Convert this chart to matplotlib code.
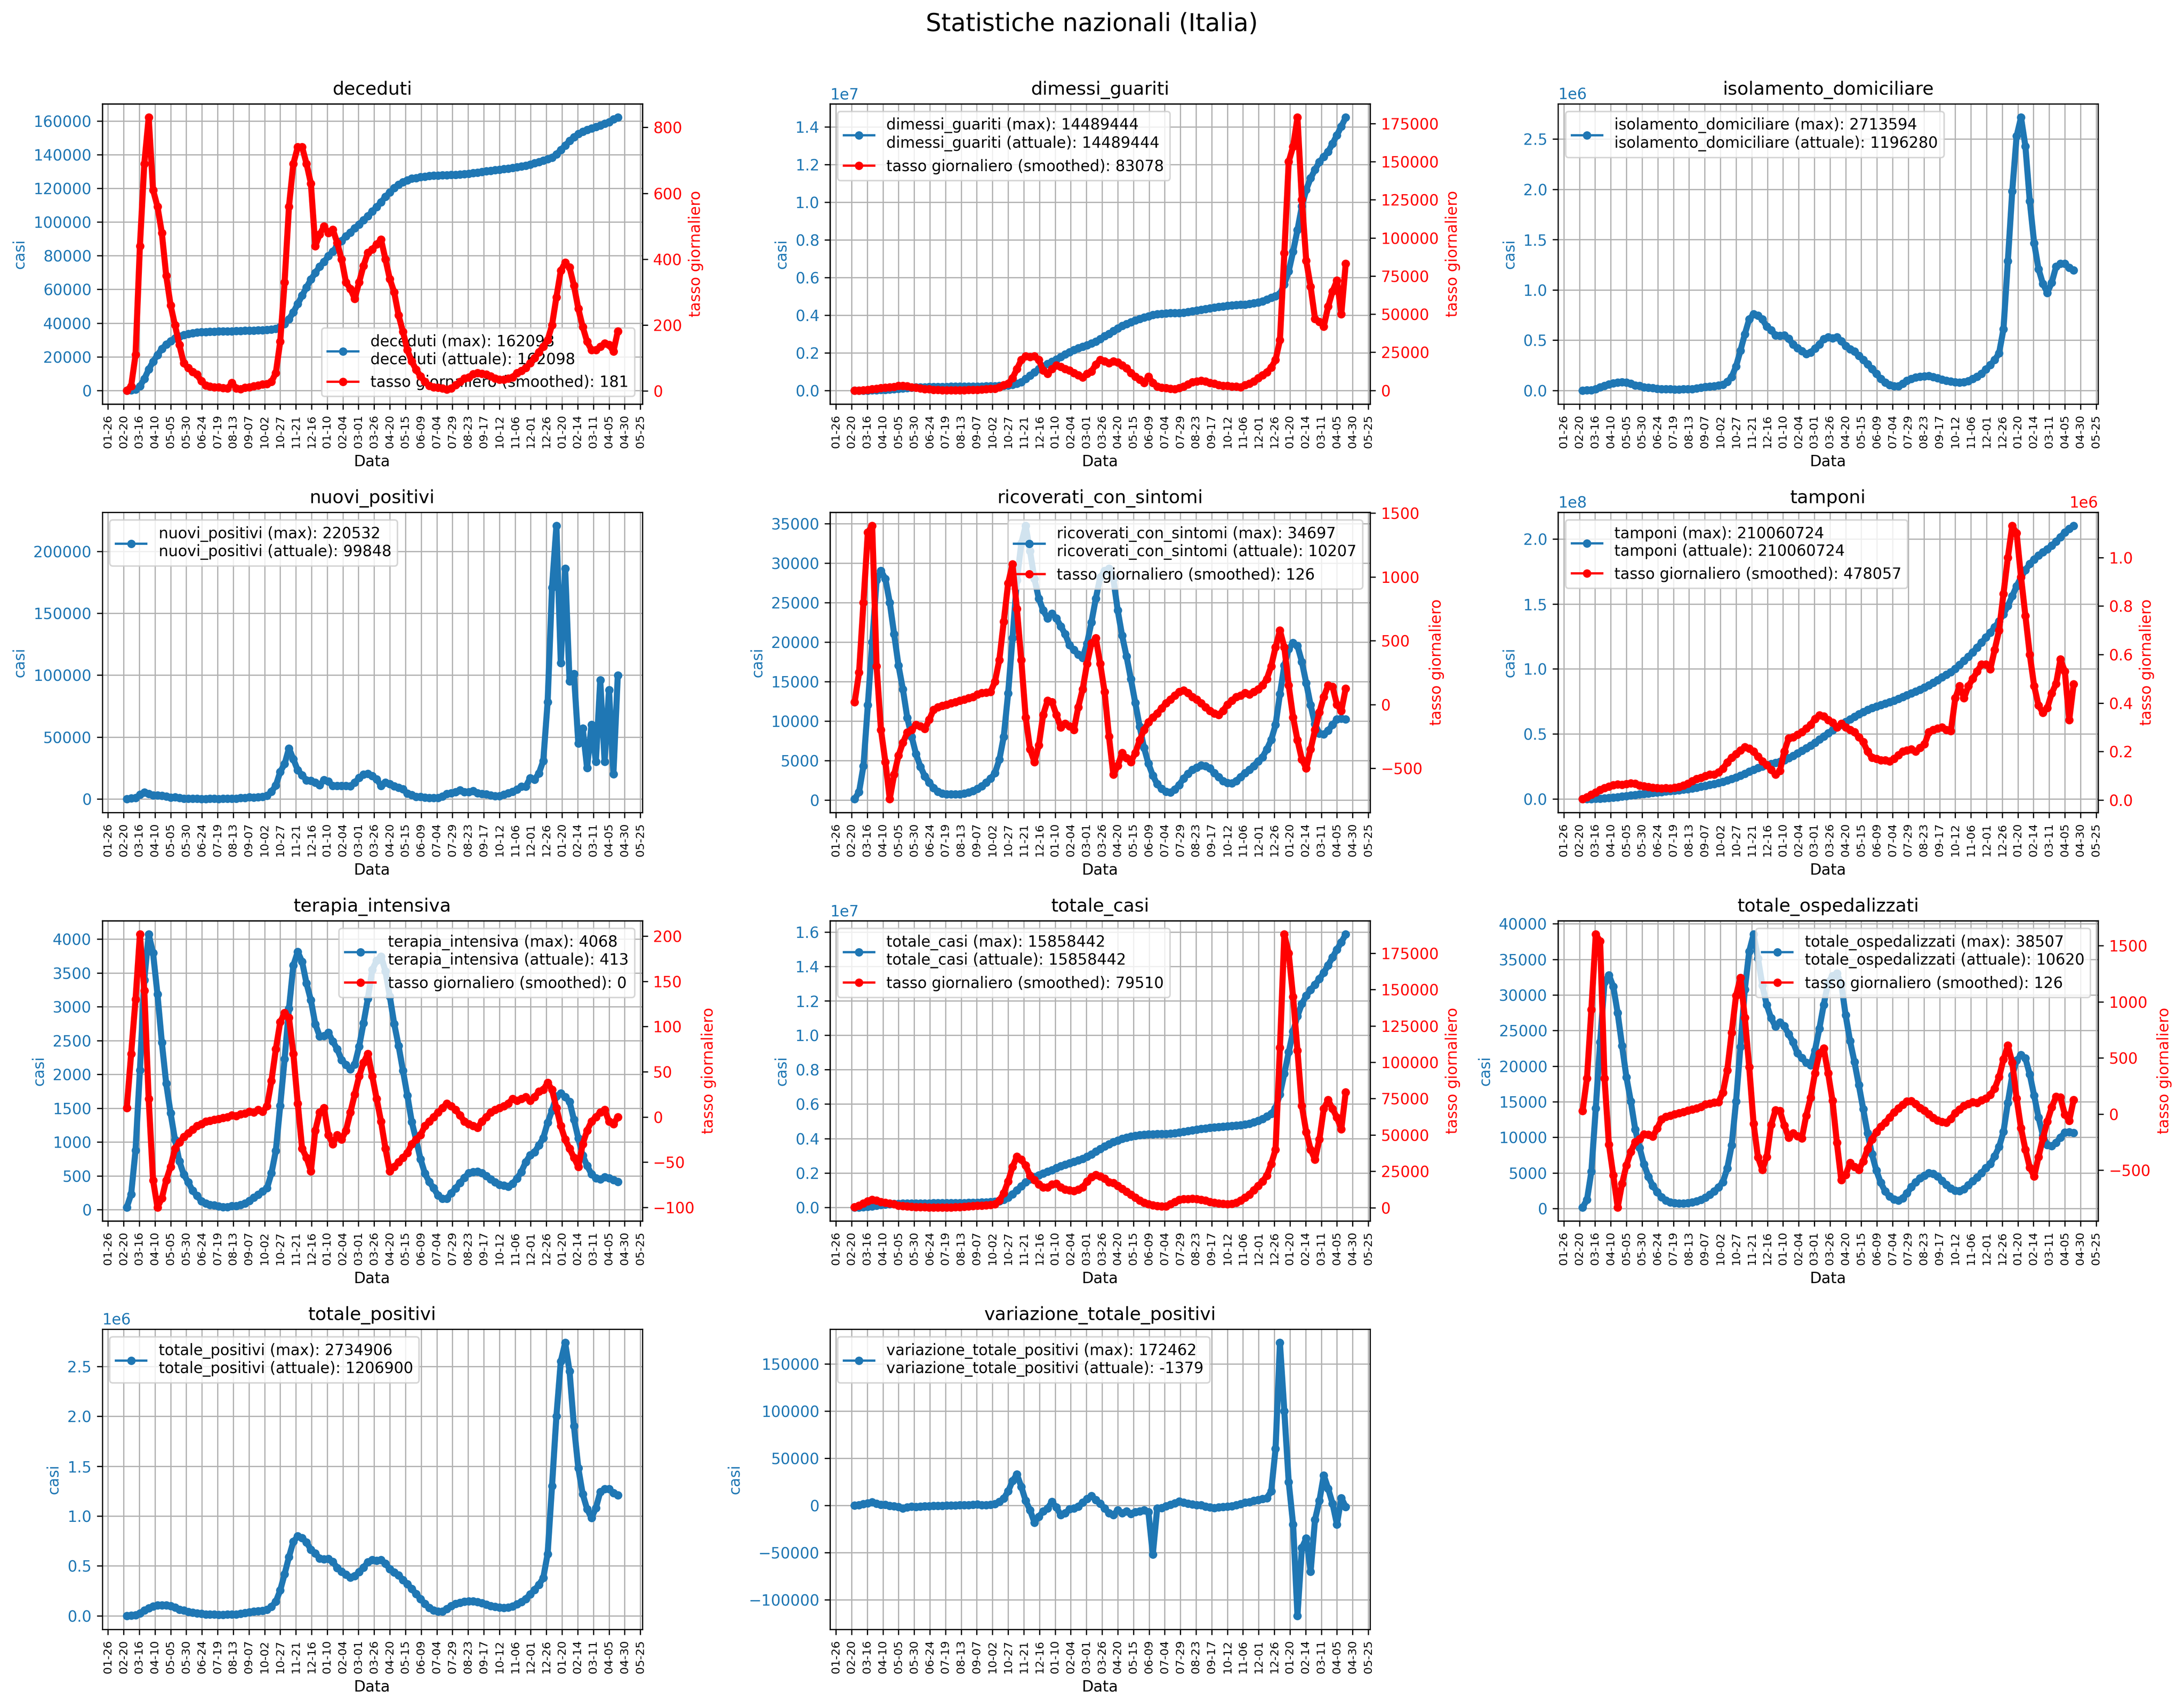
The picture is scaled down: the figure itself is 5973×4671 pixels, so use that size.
import matplotlib
matplotlib.use("Agg")
import matplotlib.pyplot as plt
import matplotlib.dates as mdates
import numpy as np
import pandas as pd

# values, one sample every 7 days (2020-02-25 .. 2022-04-19)
date = pd.date_range("2020-02-25", "2022-04-19", freq="7D")

deceduti = [10, 79, 631, 2503, 6820, 12428, 17127, 21067, 24648, 27359,
            29315, 30911, 32169, 32955, 33530, 33964, 34405, 34657, 34767, 34899,
            34984, 35073, 35132, 35171, 35225, 35405, 35445, 35491, 35553, 35633,
            35738, 35875, 36002, 36246, 36616, 37700, 39412, 42330, 46464, 51306,
            56361, 61240, 65857, 69842, 73604, 76329, 79819, 82554, 85881, 88845,
            91580, 93835, 96348, 98635, 101184, 103432, 106339, 108879, 111747, 115088,
            117633, 120256, 122263, 123745, 124810, 125793, 126221, 126690, 127038, 127322,
            127542, 127731, 127831, 127920, 128029, 128136, 128304, 128510, 128767, 129055,
            129467, 129885, 130284, 130557, 130921, 131198, 131461, 131763, 132100, 132551,
            132965, 133486, 134152, 134929, 135778, 136611, 137402, 138276, 140250, 142770,
            145500, 148160, 150470, 152290, 153690, 154740, 155615, 156490, 157435, 158450,
            159430, 161050, 162098]
deceduti_tasso = [2, 15, 110, 440, 690, 830, 610, 560, 480, 350,
                  260, 200, 140, 85, 70, 58, 50, 30, 17, 14,
                  12, 12, 9, 8, 25, 8, 6, 10, 12, 15,
                  17, 20, 22, 28, 55, 150, 330, 560, 690, 740,
                  740, 690, 630, 440, 475, 500, 480, 490, 450, 400,
                  330, 310, 280, 330, 380, 420, 430, 445, 460, 400,
                  340, 300, 230, 180, 125, 90, 65, 45, 28, 16,
                  12, 10, 8, 5, 8, 18, 28, 38, 42, 52,
                  55, 53, 50, 45, 38, 35, 35, 38, 42, 55,
                  62, 70, 85, 100, 118, 135, 155, 200, 285, 365,
                  390, 375, 320, 250, 195, 150, 125, 125, 135, 145,
                  140, 120, 181]

dimessi_guariti = [1, 160, 1004, 2941, 8326, 15729, 24392, 37130, 51610, 68941,
                   85231, 107817, 131778, 144658, 160688, 168725, 176821, 183204, 190248, 192815,
                   195327, 197095, 198952, 200442, 201519, 203217, 204517, 205906, 208000, 210671,
                   218279, 224226, 229008, 238247, 255094, 271988, 302275, 363023, 448440, 606867,
                   784595, 958629, 1141340, 1280387, 1418878, 1521203, 1636587, 1777078, 1919269, 2039010,
                   2140930, 2251865, 2324417, 2399783, 2497531, 2595343, 2733509, 2884799, 2995210, 3155500,
                   3303562, 3426362, 3520737, 3632542, 3717766, 3798879, 3873288, 3941100, 4002717, 4049967,
                   4079969, 4099154, 4110048, 4110650, 4117421, 4136632, 4167612, 4199269, 4238355, 4276246,
                   4321474, 4361006, 4405079, 4438983, 4467101, 4491803, 4515054, 4530983, 4548569, 4560606,
                   4595612, 4635327, 4679395, 4737205, 4835449, 4919389, 5004598, 5127724, 5630750, 6325230,
                   7367500, 8517840, 9769530, 10657710, 11266310, 11715260, 12134385, 12408510, 12672565, 13101550,
                   13550570, 14018950, 14489444]
dimessi_tasso = [0, 20, 150, 400, 1000, 1100, 1500, 1900, 2100, 2400,
                 3000, 3000, 2700, 2200, 1900, 1300, 1000, 900, 500, 350,
                 250, 250, 220, 200, 220, 250, 300, 450, 500, 700,
                 1000, 1100, 1200, 2000, 3500, 4500, 8000, 14000, 20000, 22500,
                 22000, 22500, 20000, 13000, 11000, 14000, 16500, 15500, 14000, 13000,
                 11500, 10000, 8500, 11000, 12500, 17000, 20000, 19000, 18000, 19000,
                 18500, 16500, 14500, 11500, 9000, 7000, 5000, 9000, 5000, 2500,
                 1800, 1500, 1200, 1000, 1500, 2500, 4000, 5500, 6000, 6500,
                 6000, 5000, 4500, 3500, 3000, 3000, 2500, 2500, 2000, 3500,
                 4500, 6000, 8000, 10000, 12000, 15000, 20000, 33000, 90000, 150000,
                 160000, 179000, 125000, 85000, 68000, 47000, 45000, 42000, 55000, 65000,
                 72000, 50000, 83078]

isolamento_domiciliare = [146, 1034, 3337, 12002, 30634, 45812, 61275, 73105, 80228, 82342,
                          80040, 67454, 51636, 44421, 33089, 28389, 23067, 18645, 13968, 13121,
                          12054, 11678, 11663, 11875, 13296, 15156, 20193, 26573, 35234, 40525,
                          43067, 48292, 58857, 85335, 133869, 240054, 395417, 559339, 707056, 758342,
                          744782, 706180, 634784, 600398, 549440, 542543, 547000, 516479, 457434, 420939,
                          391054, 363049, 377952, 417742, 457397, 510998, 529283, 518598, 528264, 490919,
                          442717, 411346, 387085, 342644, 306011, 259400, 212366, 164651, 116362, 77590,
                          53282, 41739, 43885, 66538, 97854, 116984, 128305, 137730, 142356, 143042,
                          135137, 123457, 108103, 96648, 89191, 82480, 77544, 82259, 91714, 114141,
                          135640, 164997, 209294, 253750, 302650, 371340, 609215, 1285133, 1981323, 2529183,
                          2713594, 2428905, 1881170, 1464145, 1207200, 1059750, 971073, 1071236, 1230748, 1260020,
                          1259333, 1219260, 1196280]

nuovi_positivi = [93, 466, 977, 3526, 5249, 4053, 3039, 2972, 2729, 2091,
                  1075, 1402, 813, 397, 318, 283, 210, 122, 142, 193,
                  169, 129, 212, 190, 412, 403, 878, 996, 1370, 1229,
                  1392, 1648, 2677, 5901, 10874, 21994, 28244, 40902, 32191, 23232,
                  19350, 15000, 14844, 13318, 11212, 15378, 14242, 10497, 10593, 10630,
                  10680, 10386, 13314, 17083, 19749, 20396, 18765, 16017, 10680, 13447,
                  12074, 10404, 9116, 7852, 4452, 3224, 1820, 1896, 1255, 835,
                  835, 907, 2153, 4259, 4845, 5735, 6968, 5630, 5559, 6503,
                  4664, 4021, 3970, 2985, 2466, 2494, 3702, 4598, 5830, 7698,
                  10172, 10047, 16806, 15756, 20677, 30798, 78313, 170844, 220532, 110000,
                  186000, 95000, 101000, 45000, 57000, 25000, 60000, 30000, 96000, 30000,
                  88000, 20000, 99848]

ricoverati_con_sintomi = [130, 1000, 4300, 12000, 20000, 27800, 29000, 28000, 25000, 21000,
                          17000, 14000, 10400, 8000, 5800, 4200, 3000, 2200, 1500, 1050,
                          800, 730, 700, 700, 730, 800, 950, 1150, 1400, 1750,
                          2200, 2700, 3400, 5100, 8000, 13500, 20500, 27800, 32500, 34697,
                          31500, 28000, 25500, 24000, 23000, 23600, 23000, 22000, 21000, 19600,
                          19000, 18400, 18000, 19800, 22500, 25500, 28200, 29000, 29300, 28000,
                          24000, 20800, 18200, 15300, 12300, 9300, 6600, 4600, 3100, 2000,
                          1400, 1050, 950, 1300, 1900, 2700, 3300, 3800, 4100, 4400,
                          4300, 4000, 3400, 2900, 2400, 2150, 2100, 2400, 2900, 3400,
                          3800, 4300, 4900, 5400, 6400, 7600, 9500, 13400, 17000, 19100,
                          19900, 19500, 17500, 14800, 12000, 9600, 8400, 8300, 8800, 9500,
                          10200, 10300, 10207]
ricoverati_tasso = [20, 250, 800, 1350, 1400, 300, -200, -450, -740, -550,
                    -400, -300, -220, -200, -160, -170, -190, -120, -40, -20,
                    -10, 0, 10, 20, 30, 40, 50, 60, 80, 90,
                    95, 100, 180, 350, 650, 950, 1100, 750, 350, -100,
                    -350, -450, -320, -80, 30, 20, -80, -180, -150, -170,
                    -200, -20, 120, 320, 480, 520, 320, 100, -250, -550,
                    -480, -380, -420, -450, -380, -280, -200, -140, -100, -70,
                    -30, 10, 40, 70, 100, 110, 90, 60, 40, 10,
                    -20, -50, -70, -80, -50, 0, 30, 60, 70, 90,
                    80, 100, 120, 150, 200, 300, 450, 580, 450, 150,
                    -100, -280, -430, -500, -350, -200, -60, 60, 150, 140,
                    0, -50, 126]

# tamponi in millions
tamponi_mln = [0.0086, 0.0233, 0.0608, 0.1487, 0.2970, 0.5070, 0.7554, 1.0469, 1.4502, 1.9108,
               2.3109, 2.6737, 3.1060, 3.4823, 3.8787, 4.26, 4.63, 5.0, 5.35, 5.7,
               6.05, 6.42, 6.8, 7.2, 7.65, 8.15, 8.75, 9.4, 10.05, 10.78,
               11.52, 12.3, 13.15, 14.15, 15.3, 16.6, 18.0, 19.45, 20.95, 22.43,
               23.8, 25.0, 26.1, 27.05, 27.85, 28.65, 29.77, 31.37, 33.17, 35.03,
               36.96, 38.96, 41.08, 43.34, 45.74, 48.18, 50.55, 52.83, 55.0, 57.16,
               59.31, 61.38, 63.38, 65.27, 67.02, 68.56, 69.88, 71.09, 72.27, 73.43,
               74.57, 75.73, 76.98, 78.33, 79.75, 81.2, 82.64, 84.1, 85.65, 87.44,
               89.44, 91.48, 93.57, 95.64, 97.66, 100.11, 103.23, 106.35, 109.47, 112.87,
               116.47, 120.29, 124.21, 128.06, 132.12, 136.74, 142.17, 148.65, 156.07, 163.84,
               170.5, 176.2, 180.8, 184.4, 187.3, 189.8, 192.2, 194.9, 198.0, 201.5,
               205.2, 208.0, 210.060724]
tamponi_tasso = [5000, 12000, 22000, 32000, 42000, 50000, 56000, 62000, 65000, 64000,
                 66000, 70000, 68000, 60000, 57000, 55000, 52000, 50000, 48000, 50000,
                 48000, 52000, 55000, 60000, 68000, 78000, 88000, 92000, 100000, 105000,
                 105000, 115000, 130000, 155000, 175000, 190000, 205000, 218000, 212000, 200000,
                 180000, 160000, 145000, 125000, 105000, 120000, 200000, 255000, 260000, 270000,
                 280000, 295000, 310000, 335000, 350000, 345000, 330000, 320000, 300000, 315000,
                 300000, 290000, 280000, 260000, 240000, 200000, 175000, 170000, 165000, 165000,
                 160000, 170000, 185000, 200000, 205000, 210000, 200000, 215000, 230000, 280000,
                 290000, 295000, 300000, 290000, 285000, 420000, 470000, 420000, 470000, 500000,
                 530000, 560000, 560000, 540000, 620000, 700000, 850000, 1000000, 1130000, 1100000,
                 920000, 760000, 600000, 470000, 390000, 360000, 380000, 440000, 480000, 580000,
                 530000, 330000, 478057]

terapia_intensiva = [35, 229, 877, 2060, 3396, 4068, 3792, 3186, 2471, 1863,
                     1427, 1034, 716, 521, 408, 283, 207, 127, 95, 71,
                     65, 48, 41, 41, 55, 58, 69, 94, 133, 182,
                     222, 271, 319, 539, 870, 1536, 2225, 2971, 3612, 3810,
                     3663, 3345, 3095, 2743, 2565, 2569, 2615, 2487, 2372, 2214,
                     2143, 2074, 2146, 2411, 2756, 3121, 3546, 3681, 3743, 3526,
                     3151, 2748, 2423, 2056, 1689, 1300, 1034, 749, 538, 410,
                     318, 211, 165, 162, 246, 316, 395, 470, 544, 558,
                     563, 543, 497, 452, 409, 370, 356, 341, 386, 459,
                     560, 703, 806, 850, 950, 1060, 1285, 1467, 1677, 1717,
                     1665, 1595, 1330, 1055, 800, 650, 527, 464, 452, 480,
                     467, 440, 413]
terapia_tasso = [10, 70, 130, 202, 140, 20, -70, -100, -90, -70,
                 -55, -35, -28, -22, -18, -14, -10, -8, -5, -4,
                 -3, -2, -1, 0, 2, 1, 3, 4, 6, 5,
                 8, 6, 12, 40, 75, 105, 115, 110, 70, 15,
                 -35, -45, -60, -15, 5, 10, -20, -30, -20, -25,
                 -15, 5, 25, 45, 60, 70, 45, 20, -5, -35,
                 -60, -55, -50, -45, -40, -30, -25, -20, -10, -5,
                 0, 5, 10, 15, 12, 8, 2, -5, -8, -10,
                 -12, -5, 0, 5, 8, 10, 12, 15, 20, 18,
                 20, 22, 18, 22, 28, 30, 38, 30, 10, -10,
                 -25, -35, -45, -55, -30, -15, -5, 0, 5, 8,
                 -5, -8, 0]

totale_casi = [322, 2502, 10149, 31506, 69176, 105792, 135586, 162488, 183957, 201505,
               213013, 221216, 226699, 230555, 233515, 235561, 237500, 238833, 240578, 241956,
               243230, 244624, 246488, 248229, 250825, 254636, 261174, 269214, 277634, 288761,
               299506, 311364, 327586, 365467, 434449, 564778, 759829, 995463, 1238072, 1455022,
               1620901, 1757394, 1870576, 1977370, 2067487, 2166244, 2289021, 2400598, 2485956, 2570608,
               2644707, 2729223, 2818863, 2938371, 3081368, 3238394, 3400877, 3544957, 3668264, 3793033,
               3891063, 3981512, 4050708, 4116287, 4162576, 4194672, 4219509, 4237790, 4249755, 4257289,
               4262511, 4269885, 4282879, 4306570, 4345450, 4384768, 4427916, 4469779, 4514122, 4553301,
               4590941, 4618891, 4647363, 4669540, 4690022, 4708001, 4726515, 4747746, 4775669, 4811157,
               4868577, 4938813, 5028547, 5132134, 5281227, 5436000, 5762000, 6566000, 7771000, 9018000,
               10213000, 11116000, 11820000, 12290000, 12640000, 12940000, 13270000, 13645000, 14070000, 14530000,
               14980000, 15410000, 15858442]
totale_casi_tasso = [500, 1500, 3000, 4500, 5500, 5000, 4000, 3500, 3000, 2300,
                     1500, 1200, 800, 600, 400, 350, 300, 250, 200, 200,
                     200, 220, 250, 300, 400, 600, 900, 1200, 1300, 1500,
                     1600, 1800, 2500, 5000, 10000, 18000, 28000, 35000, 33000, 29000,
                     22000, 19000, 16000, 14000, 14000, 16000, 16500, 14000, 12500, 12000,
                     11500, 12500, 14000, 18000, 21000, 22500, 21500, 20000, 17500, 17000,
                     15000, 13000, 11000, 9000, 7000, 5000, 3500, 2500, 1700, 1200,
                     900, 1000, 2500, 4000, 5500, 6000, 6000, 6200, 6000, 5500,
                     5000, 4000, 3500, 3000, 2700, 2500, 2700, 3500, 5000, 7000,
                     9000, 12000, 15000, 18000, 22000, 30000, 40000, 110000, 188000, 175000,
                     145000, 108000, 70000, 52000, 40000, 33000, 47000, 68000, 74000, 68000,
                     62000, 54000, 79510]

totale_ospedalizzati = [165, 1229, 5177, 14060, 23396, 31823, 32792, 31186, 27471, 22863,
                        18427, 15034, 11116, 8521, 6208, 4483, 3207, 2327, 1595, 1121,
                        865, 778, 741, 741, 785, 858, 1019, 1244, 1533, 1932,
                        2422, 2971, 3719, 5639, 8870, 15036, 22725, 30771, 36112, 38507,
                        35163, 31345, 28595, 26743, 25565, 26169, 25615, 24487, 23372, 21814,
                        21143, 20474, 20146, 22211, 25256, 28621, 31746, 32681, 33043, 31526,
                        27151, 23548, 20623, 17356, 13989, 10600, 7634, 5349, 3638, 2410,
                        1718, 1261, 1115, 1462, 2146, 3016, 3695, 4270, 4644, 4958,
                        4863, 4543, 3897, 3352, 2809, 2520, 2456, 2741, 3286, 3859,
                        4360, 5003, 5706, 6250, 7350, 8660, 10785, 14867, 18677, 20817,
                        21565, 21095, 18830, 15855, 12800, 10250, 8927, 8764, 9252, 9980,
                        10667, 10740, 10620]
ospedalizzati_tasso = [30, 320, 930, 1600, 1540, 320, -270, -545, -830, -620,
                       -455, -335, -248, -222, -178, -184, -200, -128, -45, -24,
                       -13, -2, 9, 20, 32, 41, 53, 64, 86, 95,
                       103, 106, 192, 390, 725, 1055, 1215, 860, 420, -85,
                       -385, -495, -380, -95, 35, 30, -100, -210, -170, -195,
                       -215, -15, 145, 365, 540, 585, 365, 120, -255, -585,
                       -540, -435, -470, -495, -420, -310, -225, -160, -110, -75,
                       -30, 15, 50, 85, 112, 118, 92, 55, 32, 0,
                       -32, -55, -70, -75, -42, 10, 42, 75, 90, 108,
                       100, 122, 138, 172, 228, 330, 488, 610, 460, 140,
                       -125, -315, -475, -555, -380, -215, -65, 60, 155, 148,
                       -5, -58, 126]

totale_positivi = [311, 2263, 8514, 26062, 54030, 77635, 94067, 104291, 107699, 105205,
                   98467, 82488, 62752, 52942, 39297, 32872, 26274, 20972, 15563, 14242,
                   12919, 12456, 12404, 12616, 14081, 16014, 21212, 27817, 36767, 42457,
                   45489, 51263, 62576, 90974, 142739, 255090, 418142, 590110, 743168, 796849,
                   779945, 737525, 663379, 627141, 575005, 568712, 572615, 540966, 480806, 442753,
                   412197, 383523, 398098, 439953, 482653, 539619, 561029, 551279, 561307, 522445,
                   469868, 434894, 407708, 360000, 320000, 270000, 220000, 170000, 120000, 80000,
                   55000, 43000, 45000, 68000, 100000, 120000, 132000, 142000, 147000, 148000,
                   140000, 128000, 112000, 100000, 92000, 85000, 80000, 85000, 95000, 118000,
                   140000, 170000, 215000, 260000, 310000, 380000, 620000, 1300000, 2000000, 2550000,
                   2734906, 2450000, 1900000, 1480000, 1220000, 1070000, 980000, 1080000, 1240000, 1270000,
                   1270000, 1230000, 1206900]

variazione_totale_positivi = [100, 400, 1500, 2500, 3600, 2100, 880, 1000, -500, -600,
                              -1500, -3000, -2000, -1000, -1500, -1000, -900, -600, -500, -300,
                              -150, -50, 30, 100, 300, 300, 600, 900, 1100, 400,
                              500, 900, 1500, 4000, 7500, 15000, 26000, 33000, 20000, 5000,
                              -5000, -18000, -12000, -6000, -3000, 4000, -2000, -10000, -8000, -4000,
                              -3000, -1000, 3000, 7000, 10000, 6000, 2000, -3000, -8000, -10000,
                              -5000, -8000, -6000, -9000, -7000, -6000, -5000, -7000, -52000, -3000,
                              -2500, -800, 1000, 2500, 4500, 3000, 2000, 1200, 500, 300,
                              -1000, -2000, -2500, -2000, -1500, -1000, -800, 300, 1500, 3000,
                              3500, 5000, 6000, 7000, 8000, 15000, 60000, 172462, 100000, 25000,
                              -20000, -117000, -45000, -35000, -70000, -15000, 5000, 32000, 18000, 2000,
                              -20000, 8000, -1379]

tamponi = np.array(tamponi_mln) * 1e6

# name, values, smoothed daily rate (None = no right axis), legend position
panels = [
    ("deceduti", deceduti, deceduti_tasso, "lower right"),
    ("dimessi_guariti", dimessi_guariti, dimessi_tasso, "upper left"),
    ("isolamento_domiciliare", isolamento_domiciliare, None, "upper left"),
    ("nuovi_positivi", nuovi_positivi, None, "upper left"),
    ("ricoverati_con_sintomi", ricoverati_con_sintomi, ricoverati_tasso, "upper right"),
    ("tamponi", tamponi, tamponi_tasso, "upper left"),
    ("terapia_intensiva", terapia_intensiva, terapia_tasso, "upper right"),
    ("totale_casi", totale_casi, totale_casi_tasso, "upper left"),
    ("totale_ospedalizzati", totale_ospedalizzati, ospedalizzati_tasso, "upper right"),
    ("totale_positivi", totale_positivi, None, "upper left"),
    ("variazione_totale_positivi", variazione_totale_positivi, None, "upper left"),
]

xticks = pd.date_range("2020-01-26", "2022-05-25", freq="25D")


def draw(ax, y, color, label):
    # daily points in the original sit so close that they merge into a thick band
    ax.plot(date, y, color=color, linewidth=4, solid_capstyle="round",
            solid_joinstyle="round")
    line, = ax.plot(date, y, color=color, marker="o", markersize=4.5, label=label)
    return line


fig, axes = plt.subplots(4, 3, figsize=(5973 / 300, 4671 / 300), dpi=300)
fig.subplots_adjust(left=0.0468, right=0.9607, top=0.9392, bottom=0.046,
                    wspace=0.3477, hspace=0.3606)

for ax, (name, vals, rate, loc) in zip(axes.flat, panels):
    vals = np.asarray(vals)
    lab = "%s (max): %d\n%s (attuale): %d" % (name, vals.max(), name, vals[-1])
    l1 = draw(ax, vals, "tab:blue", lab)
    ax.set_title(name)
    ax.set_xlabel("Data")
    ax.set_ylabel("casi", color="tab:blue")
    ax.tick_params(axis="y", labelcolor="tab:blue")
    ax.set_xticks(xticks)
    ax.xaxis.set_major_formatter(mdates.DateFormatter("%m-%d"))
    ax.tick_params(axis="x", labelrotation=90, labelsize=7.5)
    ax.grid(True)
    handles = [l1]
    if rate is not None:
        ax2 = ax.twinx()
        l2 = draw(ax2, rate, "red", "tasso giornaliero (smoothed): %d" % rate[-1])
        ax2.set_ylabel("tasso giornaliero", color="red")
        ax2.tick_params(axis="y", labelcolor="red")
        handles.append(l2)
    ax.legend(handles=handles, loc=loc)

axes[3, 2].remove()

fig.suptitle("Statistiche nazionali (Italia)", fontsize=16, y=0.993)
fig.savefig("out.png", dpi=300)
